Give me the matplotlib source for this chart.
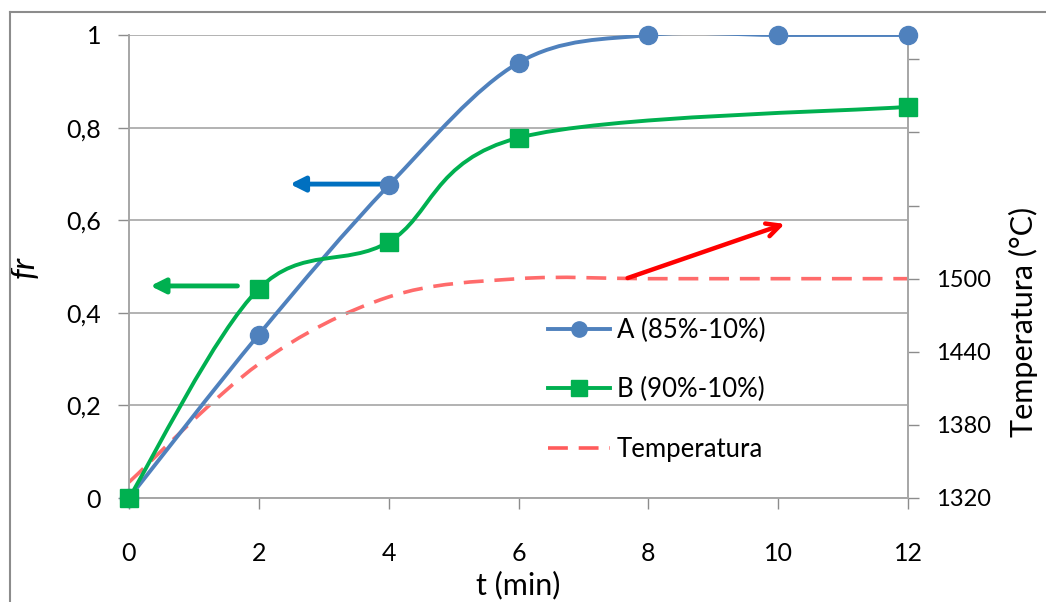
import numpy as np
import matplotlib.pyplot as plt
from matplotlib.path import Path
from matplotlib.patches import PathPatch
from matplotlib.lines import Line2D

plt.rcParams['font.family'] = ['Lato', 'DejaVu Sans']

# data
t_a = [0, 2, 4, 6, 8, 10, 12]
fr_a = [0, 0.353, 0.675, 0.94, 1.0, 1.0, 1.0]
t_b = [0, 2, 4, 6, 12]
fr_b = [0, 0.452, 0.553, 0.778, 0.845]
t_temp = [0, 2, 4, 6, 8, 10, 12]
temp = [1333, 1430, 1485, 1500, 1500, 1500, 1500]

labels = ['A (85%-10%)', 'B (90%-10%)', 'Temperatura']
fr_ticks = [0, 0.2, 0.4, 0.6, 0.8, 1.0]
temp_ticks = [1320, 1380, 1440, 1500, 1560, 1620, 1680]

c_a = '#4F81BD'
c_b = '#00B050'
c_t = '#FF5B5B'
grid_c = '#A6A6A6'
dash = (0, (5.5, 3))


def smooth_path(xs, ys, s=1/6):
    # excel style smoothed line: cubic bezier through every point
    p = np.column_stack([xs, ys]).astype(float)
    n = len(p)
    verts = [p[0]]
    codes = [Path.MOVETO]
    for i in range(n - 1):
        prev = p[max(i - 1, 0)]
        nxt = p[min(i + 2, n - 1)]
        c1 = p[i] + (p[i + 1] - prev) * s
        c2 = p[i + 1] - (nxt - p[i]) * s
        verts += [c1, c2, p[i + 1]]
        codes += [Path.CURVE4] * 3
    return Path(verts, codes)


fig = plt.figure(figsize=(10.46, 6.02), dpi=100)
ax = fig.add_axes([129/1046, 1-498/602, 779/1046, 463/602])
ax2 = ax.twinx()
ax.set_zorder(ax2.get_zorder() + 1)
ax.patch.set_visible(False)

# temperature on right axis
ax2.add_patch(PathPatch(smooth_path(t_temp, temp), fill=False, edgecolor=c_t,
                        lw=2.6, linestyle=dash, alpha=0.9))
ax2.set_ylim(1320, 1700)
ax2.set_yticks(temp_ticks)
ax2.set_yticklabels([str(v) if v <= 1500 else '' for v in temp_ticks], fontsize=17)
ax2.tick_params(axis='y', direction='out', length=8, width=1, color='#8C8C8C', pad=12)
ax2.set_ylabel('Temperatura (°C)', fontsize=22)
ax2.yaxis.set_label_coords(1.13, 0.38)

# fr curves
ax.add_patch(PathPatch(smooth_path(t_a, fr_a), fill=False, edgecolor=c_a, lw=2.8, zorder=3))
ax.add_patch(PathPatch(smooth_path(t_b, fr_b), fill=False, edgecolor=c_b, lw=2.8, zorder=3))
ax.plot(t_a, fr_a, 'o', color=c_a, ms=13, clip_on=False, zorder=4)
ax.plot(t_b, fr_b, 's', color=c_b, ms=13, clip_on=False, zorder=5)

ax.set_xlim(0, 12)
ax.set_ylim(0, 1)
ax.set_xticks(range(0, 13, 2))
ax.set_yticks(fr_ticks)
ax.set_yticklabels(['0', '0,2', '0,4', '0,6', '0,8', '1'], fontsize=18)
ax.set_xticklabels([str(v) for v in range(0, 13, 2)], fontsize=18)
ax.tick_params(axis='x', direction='out', length=8, width=1, color='#8C8C8C', pad=24)
ax.tick_params(axis='y', direction='out', length=8, width=1, color='#8C8C8C', pad=12)
ax.grid(axis='y', color=grid_c, lw=1.2)
ax.set_axisbelow(True)
for a in (ax, ax2):
    a.spines['top'].set_visible(False)
    for sp in ('left', 'right', 'bottom'):
        a.spines[sp].set_color('#A6A6A6')
        a.spines[sp].set_linewidth(1.2)
ax.set_xlabel('t (min)', fontsize=22)
ax.xaxis.set_label_coords(0.5, -0.158)
ax.set_ylabel('fr', fontsize=24, style='italic')
ax.yaxis.set_label_coords(-0.115, 0.5)

# arrows pointing to the axes
ax.annotate('', xy=(2.48, 0.678), xytext=(4.02, 0.678),
            arrowprops=dict(arrowstyle='-|>', color='#0070C0', lw=3.5, mutation_scale=22,
                            shrinkA=0, shrinkB=0))
ax.annotate('', xy=(0.33, 0.458), xytext=(1.67, 0.458),
            arrowprops=dict(arrowstyle='-|>', color=c_b, lw=3.5, mutation_scale=22,
                            shrinkA=0, shrinkB=0))
ax.annotate('', xy=(10.1, 0.592), xytext=(7.68, 0.475),
            arrowprops=dict(arrowstyle='->', color='#FF0000', lw=3.2, mutation_scale=24,
                            shrinkA=0, shrinkB=0))

handles = [Line2D([], [], color=c_a, lw=2.8, marker='o', ms=11),
           Line2D([], [], color=c_b, lw=2.8, marker='s', ms=12),
           Line2D([], [], color=c_t, lw=2.6, linestyle=dash)]
ax.legend(handles, labels, loc='upper left', bbox_to_anchor=(0.538, 0.39),
          frameon=False, fontsize=18.5, handlelength=2.4, labelspacing=1.35,
          handletextpad=0.28, borderpad=0, borderaxespad=0)

# outer chart border (partly cropped)
fig.add_artist(Line2D([10/1046, 10/1046], [0, 1-12/602], color='#8C8C8C', lw=1.5))
fig.add_artist(Line2D([10/1046, 1], [1-12/602, 1-12/602], color='#8C8C8C', lw=1.5))

fig.savefig('out.png', dpi=100)
